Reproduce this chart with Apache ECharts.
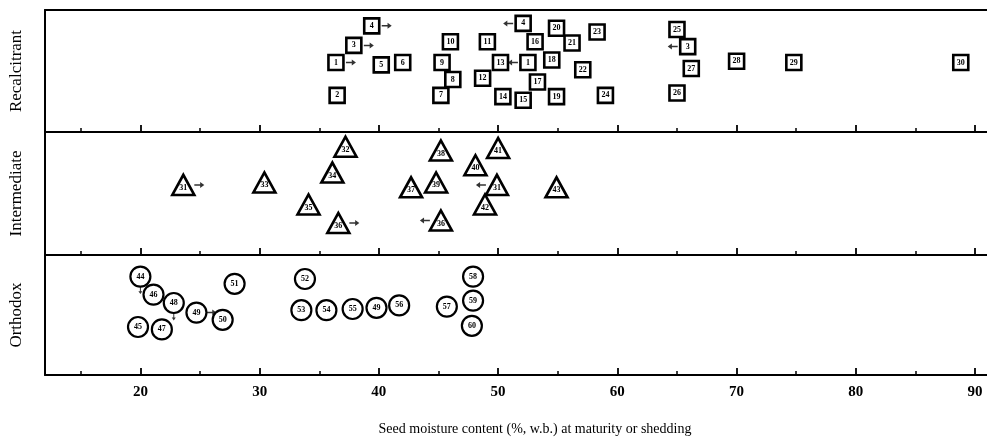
<!DOCTYPE html>
<html>
<head>
<meta charset="utf-8">
<script src="https://cdn.jsdelivr.net/npm/echarts@6/dist/echarts.min.js"></script>
<style>
  html, body { margin: 0; padding: 0; background: #fff; }
  #chart { width: 987px; height: 442px; }
</style>
</head>
<body>
<div id="chart"></div>
<script>
// Seed moisture content (% w.b.) at maturity or shedding, by storage class.
// Y values only spread the numbered species vertically inside each band (0-10).
const majorTicks = [20, 30, 40, 50, 60, 70, 80, 90];
const minorTicks = [15, 25, 35, 45, 55, 65, 75, 85];
const bandNames = ['Recalcitrant', 'Intermediate', 'Orthodox'];

const recLabels = ['1','2','3','4','5','6','7','8','9','10','11','12','13','14','15','16','17','18','19','20','21','22','23','24','25','26','27','28','29','30','4','1','3'];
const recX = [36.4,36.5,37.9,39.4,40.2,42.0,45.2,46.2,45.3,46.0,49.1,48.7,50.2,50.4,52.1,53.1,53.3,54.5,54.9,54.9,56.2,57.1,58.3,59.0,65.0,65.0,66.2,70.0,74.8,88.8,52.1,52.5,65.9];
const recY = [5.7,3.0,7.1,8.7,5.5,5.7,3.0,4.3,5.7,7.4,7.4,4.4,5.7,2.9,2.6,7.4,4.1,5.9,2.9,8.5,7.3,5.1,8.2,3.0,8.4,3.2,5.2,5.8,5.7,5.7,8.9,5.7,7.0];
const recArrows = ['r','','r','r','','','','','','','','','','','','','','','','','','','','','','','','','','','l','l','l'];

const intLabels = ['31','33','32','34','35','36','37','38','39','40','41','31','42','43','36'];
const intX = [23.6,30.4,37.2,36.1,34.1,36.6,42.7,45.2,44.8,48.1,50.0,49.9,48.9,54.9,45.2];
const intY = [5.7,5.9,8.8,6.7,4.1,2.6,5.5,8.5,5.9,7.3,8.7,5.7,4.1,5.5,2.8];
const intArrows = ['r','','','','','r','','','','','','l','','','l'];

const ortLabels = ['44','46','48','49','50','45','47','51','52','53','54','55','49','56','57','58','59','60'];
const ortX = [20.0,21.1,22.8,24.7,26.9,19.8,21.8,27.9,33.8,33.5,35.6,37.8,39.8,41.7,45.7,47.9,47.9,47.8];
const ortY = [8.2,6.7,6.0,5.2,4.6,4.0,3.8,7.6,8.0,5.4,5.4,5.5,5.6,5.8,5.7,8.2,6.2,4.1];
const ortArrows = ['d','','d','r','','','','','','','','','','','','','',''];

const FONT = '"Liberation Serif", "DejaVu Serif", serif';
const X_MIN = 12, X_MAX = 91;

const ARROW_PATHS = {
  r: 'path://M0,3L7,3L7,0L12,4L7,8L7,5L0,5Z',
  l: 'path://M12,3L5,3L5,0L0,4L5,8L5,5L12,5Z',
  d: 'path://M3,0L5,0L5,7L8,7L4,12L0,7L3,7Z'
};

const bands = [
  { labels: recLabels, xs: recX, ys: recY, arrows: recArrows, symbol: 'rect', size: [15, 15], border: 2.6, labelOffset: [0, 0], arrowGap: 15 },
  { labels: intLabels, xs: intX, ys: intY, arrows: intArrows, symbol: 'triangle', size: [22, 20], border: 2.6, labelOffset: [0, 3], arrowGap: 16 },
  { labels: ortLabels, xs: ortX, ys: ortY, arrows: ortArrows, symbol: 'circle', size: [20, 20], border: 2.2, labelOffset: [0, 0], arrowGap: 15 }
];

const grids = [
  { left: 42, right: 0, top: 10, height: 122 },
  { left: 42, right: 0, top: 132, height: 123 },
  { left: 42, right: 0, top: 255, height: 120 }
];

const xAxis = [];
const yAxis = [];
const series = [];

bands.forEach((b, i) => {
  const last = i === bands.length - 1;
  // Main axis: baseline, major ticks (pointing into the band) and, on the last band, labels.
  xAxis.push({
    type: 'value', gridIndex: i, min: X_MIN, max: X_MAX, position: 'bottom',
    axisLine: { show: true, lineStyle: { color: '#000', width: 2 } },
    axisTick: { show: true, inside: true, length: 7, customValues: majorTicks, lineStyle: { color: '#000', width: 1.8 } },
    axisLabel: {
      show: last, customValues: majorTicks, color: '#000', fontFamily: FONT,
      fontSize: 15, fontWeight: 'bold', margin: 10
    },
    splitLine: { show: false },
    name: last ? 'Seed moisture content (%, w.b.) at maturity or shedding' : '',
    nameLocation: 'middle', nameGap: 47,
    nameTextStyle: { color: '#000', fontFamily: FONT, fontSize: 14, padding: [0, 0, 0, 38] }
  });
  // Minor ticks every 5 units.
  xAxis.push({
    type: 'value', gridIndex: i, min: X_MIN, max: X_MAX, position: 'bottom',
    axisLine: { show: false },
    axisTick: { show: true, inside: true, length: 4, customValues: minorTicks, lineStyle: { color: '#000', width: 1.5 } },
    axisLabel: { show: false },
    splitLine: { show: false }
  });
  yAxis.push({
    type: 'value', gridIndex: i, min: 0, max: 10,
    axisLine: { show: true, lineStyle: { color: '#000', width: 2 } },
    axisTick: { show: false }, axisLabel: { show: false }, splitLine: { show: false },
    name: bandNames[i], nameLocation: 'middle', nameRotate: 90, nameGap: 20,
    nameTextStyle: { color: '#000', fontFamily: FONT, fontSize: 17 }
  });

  const xIndex = i * 2;
  series.push({
    type: 'scatter', xAxisIndex: xIndex, yAxisIndex: i, z: 3,
    symbol: b.symbol, symbolSize: b.size,
    itemStyle: { color: '#fff', borderColor: '#000', borderWidth: b.border, opacity: 1 },
    label: {
      show: true, position: 'inside', offset: b.labelOffset,
      formatter: p => p.value[2], color: '#000', fontFamily: FONT, fontSize: 8, fontWeight: 'bold'
    },
    emphasis: { disabled: true },
    data: b.xs.map((x, k) => [x, b.ys[k], b.labels[k]])
  });

  const arrowData = [];
  b.xs.forEach((x, k) => {
    const dir = b.arrows[k];
    if (!dir) return;
    const off = dir === 'r' ? [b.arrowGap, 0] : dir === 'l' ? [-b.arrowGap, 0] : [0, 14];
    arrowData.push({
      value: [x, b.ys[k]],
      symbol: ARROW_PATHS[dir],
      symbolSize: dir === 'd' ? [4, 7] : [10, 6],
      symbolOffset: off
    });
  });
  series.push({
    type: 'scatter', xAxisIndex: xIndex, yAxisIndex: i, z: 2,
    itemStyle: { color: '#000' },
    emphasis: { disabled: true },
    data: arrowData
  });
});

// Top border of the upper band.
xAxis.push({
  type: 'value', gridIndex: 0, min: X_MIN, max: X_MAX, position: 'top',
  axisLine: { show: true, lineStyle: { color: '#000', width: 2 } },
  axisTick: { show: false }, axisLabel: { show: false }, splitLine: { show: false }
});

const chart = echarts.init(document.getElementById('chart'), null, { renderer: 'canvas' });
chart.setOption({
  backgroundColor: '#fff',
  animation: false,
  grid: grids,
  xAxis: xAxis,
  yAxis: yAxis,
  series: series
});
</script>
</body>
</html>
